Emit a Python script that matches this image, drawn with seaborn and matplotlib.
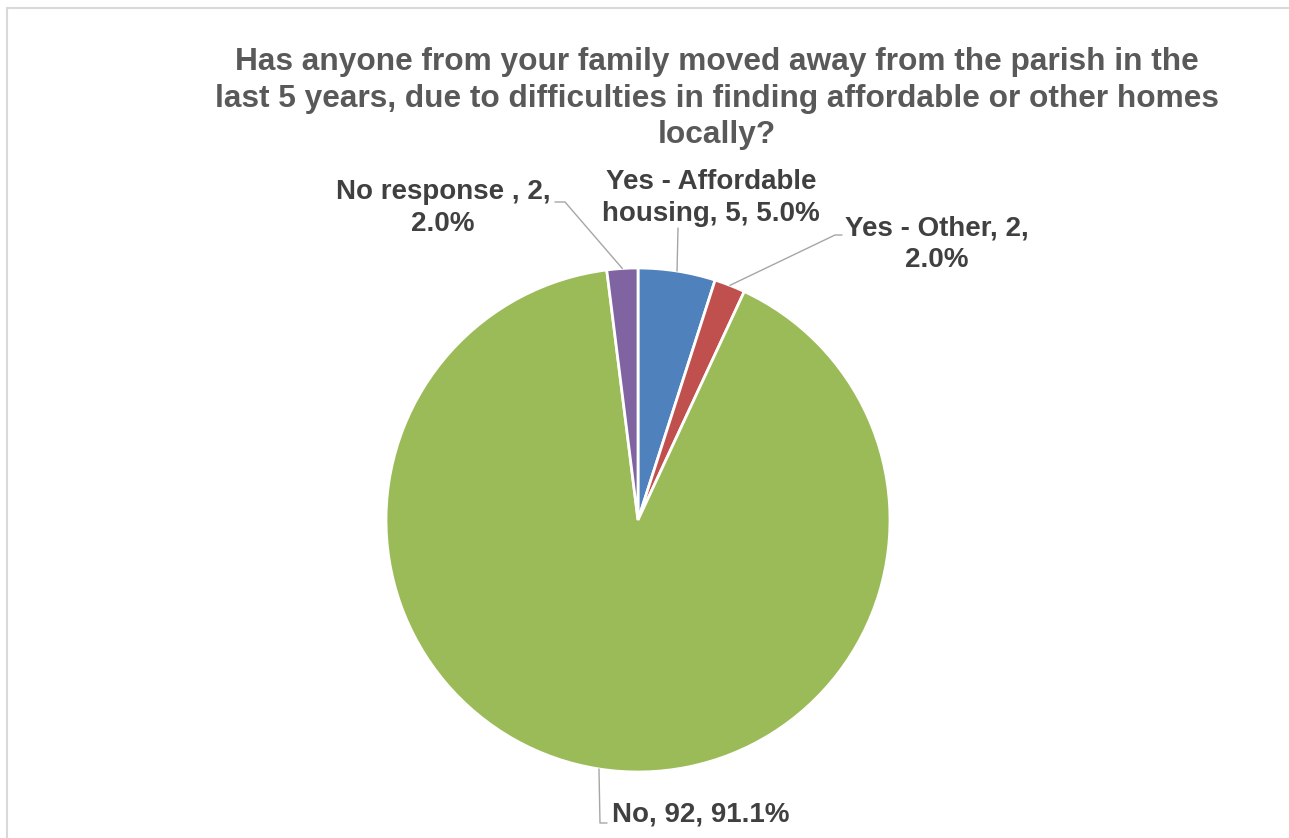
import textwrap
import numpy as np
import matplotlib
matplotlib.use("Agg")
import matplotlib.pyplot as plt
from matplotlib.lines import Line2D
import seaborn as sns

# Survey answers (counts), in clockwise order starting at 12 o'clock
categories = ["Yes - Affordable housing", "Yes - Other", "No", "No response "]
counts = [5, 2, 92, 2]
colors = ["#4F81BD", "#C0504D", "#9BBB59", "#8064A2"]

title = ("Has anyone from your family moved away from the parish in the\n"
         "last 5 years, due to difficulties in finding affordable or other homes\n"
         "locally?")

sns.set_theme(style="white")
plt.rcParams["font.family"] = ["Liberation Sans", "DejaVu Sans"]

W, H = 1289, 838
fig = plt.figure(figsize=(W / 100, H / 100), dpi=100)
fig.patch.set_facecolor("white")

# pie centre and radius in pixels
cx, cy, R = 638, 520, 252
ax = fig.add_axes([(cx - R) / W, (H - cy - R) / H, 2 * R / W, 2 * R / H])

wedges, _ = ax.pie(counts, colors=colors, startangle=90, counterclock=False,
                   radius=1.0, wedgeprops=dict(edgecolor="white", linewidth=2))
ax.set_xlim(-1, 1)
ax.set_ylim(-1, 1)
ax.set_aspect("equal")
ax.axis("off")

total = sum(counts)
labels = [textwrap.fill(f"{c}, {v}, {v / total * 100:.1f}%", width=17)
          for c, v in zip(categories, counts)]

def to_data(px, py):
    return (px - cx) / R, (cy - py) / R

# label centre, leader elbow and leader end (pixels)
label_pos = [(711, 198), (937, 244), (701, 814), (443, 208)]
leader_pts = [
    [(678, 228)],
    [(835, 235), (842, 235)],
    [(600, 823), (607, 823)],
    [(565, 202), (555, 202)],
]

lead_color = "#A6A6A6"
for w, lab, (lx, ly), pts in zip(wedges, labels, label_pos, leader_pts):
    mid = np.deg2rad((w.theta1 + w.theta2) / 2)
    sx, sy = np.cos(mid), np.sin(mid)
    xs = [sx] + [to_data(*p)[0] for p in pts]
    ys = [sy] + [to_data(*p)[1] for p in pts]
    ax.plot(xs, ys, color=lead_color, lw=1.0, clip_on=False, zorder=1)
    tx, ty = to_data(lx, ly)
    ax.text(tx, ty, lab, ha="center", va="center", fontsize=20,
            fontweight="bold", color="#404040", linespacing=1.27,
            multialignment="center", clip_on=False)

fig.text(717 / W, 1 - 47 / H, title, ha="center", va="top", fontsize=22.8,
         fontweight="bold", color="#595959", linespacing=1.29)

# chart area border (top and left edges visible)
fig.add_artist(Line2D([7 / W, 7 / W], [0, 1 - 8 / H], transform=fig.transFigure,
                      color="#D9D9D9", lw=1.5))
fig.add_artist(Line2D([7 / W, 1], [1 - 8 / H, 1 - 8 / H], transform=fig.transFigure,
                      color="#D9D9D9", lw=1.5))

fig.savefig("out.png", dpi=100, facecolor="white")
